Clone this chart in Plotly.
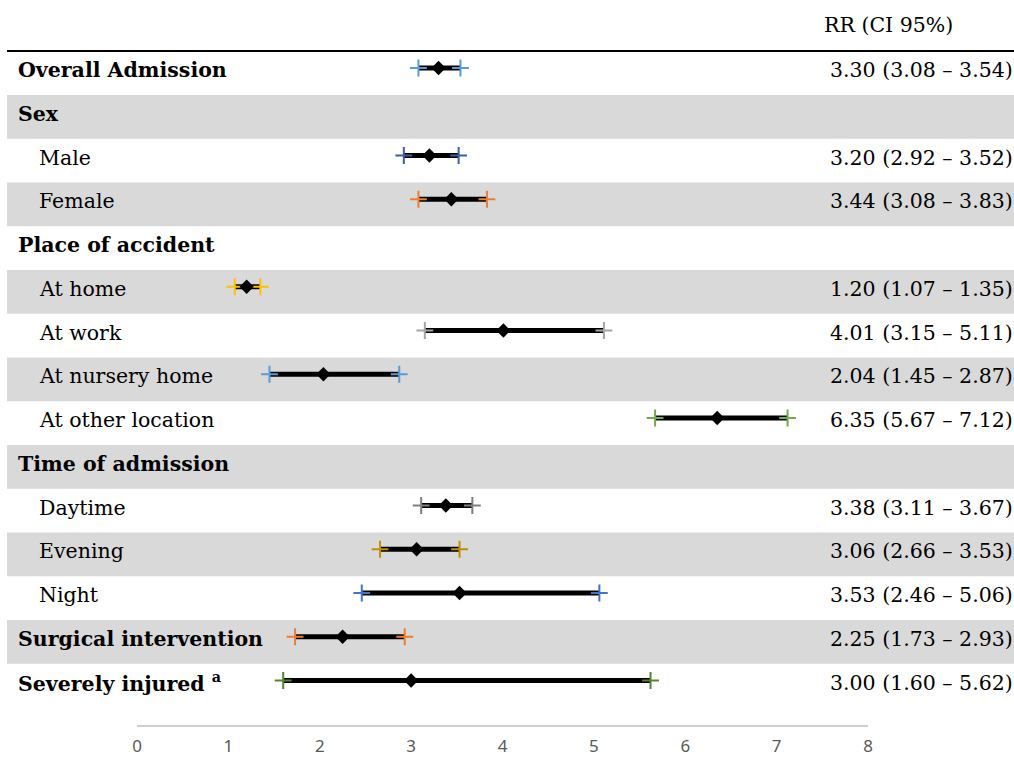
import plotly.graph_objects as go

# ---- data ----
labels = ["Overall Admission", "Sex", "Male", "Female", "Place of accident",
          "At home", "At work", "At nursery home", "At other location",
          "Time of admission", "Daytime", "Evening", "Night",
          "Surgical intervention", "Severely injured"]
is_header = [True, True, False, False, True, False, False, False, False,
             True, False, False, False, True, True]
rr = [3.30, None, 3.20, 3.44, None, 1.20, 4.01, 2.04, 6.35, None, 3.38, 3.06, 3.53, 2.25, 3.00]
ci_low = [3.08, None, 2.92, 3.08, None, 1.07, 3.15, 1.45, 5.67, None, 3.11, 2.66, 2.46, 1.73, 1.60]
ci_high = [3.54, None, 3.52, 3.83, None, 1.35, 5.11, 2.87, 7.12, None, 3.67, 3.53, 5.06, 2.93, 5.62]
x_ticks = [0, 1, 2, 3, 4, 5, 6, 7, 8]
column_title = "RR (CI 95%)"
footnote_mark = "a"

# ---- styles ----
cap_colors = ["#5B9BD5", None, "#3F5F99", "#ED7D31", None, "#FFC000", "#A5A5A5",
              "#5B9BD5", "#70AD47", None, "#7F7F7F", "#BF9000", "#4472C4",
              "#ED7D31", "#548235"]
SERIF = "DejaVu Serif"
FS = 20.5
W, H = 1014, 760
BAND = "#D9D9D9"

n = len(labels)
rows = list(range(n))

fig = go.Figure()

# CI lines
lx, ly = [], []
for i in rows:
    if rr[i] is None:
        continue
    lx += [ci_low[i], ci_high[i], None]
    ly += [i, i, None]
fig.add_trace(go.Scatter(x=lx, y=ly, mode="lines",
                         line=dict(color="black", width=5),
                         hoverinfo="skip", showlegend=False))

# coloured caps
cx, cy, cc = [], [], []
for i in rows:
    if rr[i] is None:
        continue
    for v in (ci_low[i], ci_high[i]):
        cx.append(v)
        cy.append(i)
        cc.append(cap_colors[i])
fig.add_trace(go.Scatter(x=cx, y=cy, mode="markers",
                         marker=dict(symbol="cross-thin", size=12,
                                     line=dict(color=cc, width=2)),
                         hoverinfo="skip", showlegend=False))

# point estimates
px_ = [rr[i] for i in rows if rr[i] is not None]
py_ = [i for i in rows if rr[i] is not None]
fig.add_trace(go.Scatter(x=px_, y=py_, mode="markers",
                         marker=dict(symbol="diamond", size=11, color="black"),
                         showlegend=False))

# bands and header line
shapes = []
for i in rows:
    if i % 2 == 1:
        shapes.append(dict(type="rect", xref="paper", yref="y",
                           x0=7 / W, x1=1, y0=i - 0.383, y1=i + 0.617,
                           fillcolor=BAND, line=dict(width=0), layer="below"))
shapes.append(dict(type="line", xref="paper", yref="y", x0=7 / W, x1=1,
                   y0=-0.389, y1=-0.389, line=dict(color="black", width=2)))
# axis line from first to last tick
shapes.append(dict(type="line", xref="x", yref="paper", x0=x_ticks[0], x1=x_ticks[-1],
                   y0=34 / H, y1=34 / H, line=dict(color="#BFBFBF", width=1.3)))

annotations = []
for i in rows:
    txt = labels[i]
    if is_header[i]:
        txt = "<b>" + txt + "</b>"
        if labels[i] == "Severely injured":
            txt = "<b>" + labels[i] + " <sup>" + footnote_mark + "</sup></b>"
        xpos = 16 / W
    else:
        xpos = 37 / W
    annotations.append(dict(x=xpos, y=i, xref="paper", yref="y", text=txt,
                            showarrow=False, xanchor="left", yanchor="middle",
                            yshift=-2,
                            font=dict(family=SERIF, size=FS, color="black")))
    if rr[i] is not None:
        annotations.append(dict(x=1, y=i, xref="paper", yref="y", xshift=1,
                                yshift=-2,
                                text=f"{rr[i]:.2f} ({ci_low[i]:.2f} – {ci_high[i]:.2f})",
                                showarrow=False, xanchor="right", yanchor="middle",
                                font=dict(family=SERIF, size=FS, color="black")))
annotations.append(dict(x=822 / W, y=1 - 25 / H, xref="paper", yref="paper",
                        text=column_title, showarrow=False, xanchor="left",
                        yanchor="middle",
                        font=dict(family=SERIF, size=FS, color="black")))

x_scale = (868 - 137) / 8
fig.update_layout(
    width=W, height=H,
    margin=dict(l=0, r=0, t=0, b=0),
    paper_bgcolor="white", plot_bgcolor="rgba(0,0,0,0)",
    shapes=shapes, annotations=annotations,
    xaxis=dict(range=[-137 / x_scale, 8 + (W - 868) / x_scale], domain=[0, 1],
               tickvals=x_ticks, ticktext=[str(t) for t in x_ticks],
               showgrid=False, zeroline=False, showline=False, ticks="",
               ticklabelstandoff=8, automargin=False,
               tickfont=dict(family="Noto Sans", size=17, color="#595959")),
    yaxis=dict(range=[(726 - 68) / 43.75, -68 / 43.75], domain=[34 / H, 1],
               visible=False, showgrid=False, zeroline=False),
)

fig.write_html("out.html")
